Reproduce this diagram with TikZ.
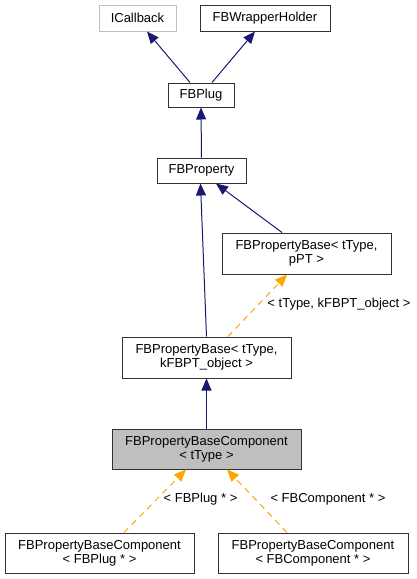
\documentclass[tikz,border=0pt]{standalone}
\usepackage{fontspec}
\setmainfont{Liberation Sans}
\usetikzlibrary{arrows.meta,calc}
\definecolor{navyc}{RGB}{25,25,112}
\definecolor{orangec}{RGB}{255,165,0}
\definecolor{boxc}{RGB}{50,50,50}
\definecolor{greyc}{RGB}{191,191,191}
\begin{document}
\begin{tikzpicture}[x=1pt,y=-1pt,
  cls/.style={draw=boxc, line width=1pt, fill=white, inner sep=0pt, align=center,
    font=\fontsize{13}{14}\selectfont},
  inh/.style={draw=navyc, line width=1pt, -{Triangle[length=12pt,width=10pt,fill=navyc]}},
  tmpl/.style={draw=orangec, line width=1pt, dash pattern=on 6pt off 5pt,
    -{Triangle[length=12pt,width=10pt,fill=orangec]}},
  lbl/.style={inner sep=0pt, font=\fontsize{13}{14}\selectfont}]
\path[use as bounding box] (0,0) rectangle (417,579);

\node[cls, draw=greyc, minimum width=77pt, minimum height=26pt] (icb) at (137.5,18) {ICallback};
\node[cls, minimum width=130pt, minimum height=26pt] (wrap) at (265,18) {FBWrapperHolder};
\node[cls, minimum width=66pt, minimum height=24pt] (plug) at (201,95) {FBPlug};
\node[cls, minimum width=89pt, minimum height=25pt] (prop) at (201.5,170.5) {FBProperty};
\node[cls, minimum width=169pt, minimum height=41pt] (ppt) at (306.5,253.5) {FBPropertyBase< tType,\\pPT >};
\node[cls, minimum width=169pt, minimum height=41pt] (kobj) at (206.5,357.5) {FBPropertyBase< tType,\\kFBPT\_object >};
\node[cls, fill=greyc, minimum width=189pt, minimum height=40pt] (comp) at (206.5,449) {FBPropertyBaseComponent\\< tType >};
\node[cls, minimum width=189pt, minimum height=40pt] (cplug) at (99.5,553) {FBPropertyBaseComponent\\< FBPlug * >};
\node[cls, minimum width=190pt, minimum height=40pt] (ccomp) at (313,553) {FBPropertyBaseComponent\\< FBComponent * >};

\draw[inh] ([xshift=-11pt]plug.north) -- ([xshift=9.5pt]icb.south);
\draw[inh] ([xshift=11pt]plug.north) -- ([xshift=-10pt]wrap.south);
\draw[inh] (prop.north) -- (plug.south);
\draw[inh] (kobj.north) -- ([xshift=-1pt]prop.south);
\draw[inh] ([xshift=-24.5pt]ppt.north) -- ([xshift=14.5pt]prop.south);
\draw[tmpl] ([xshift=21.5pt]kobj.north) -- ([xshift=-19.5pt]ppt.south);
\draw[inh] (comp.north) -- (kobj.south);
\draw[tmpl] ([xshift=24.5pt]cplug.north) -- ([xshift=-20.5pt]comp.south);
\draw[tmpl] ([xshift=-26pt]ccomp.north) -- ([xshift=20.5pt]comp.south);

\node[lbl] (l1) at (339,304) {< tType, kFBPT\_object >};
\node[lbl] (l2) at (200.5,499) {< FBPlug * >};
\node[lbl] (l3) at (328,499) {< FBComponent * >};
\end{tikzpicture}
\end{document}
